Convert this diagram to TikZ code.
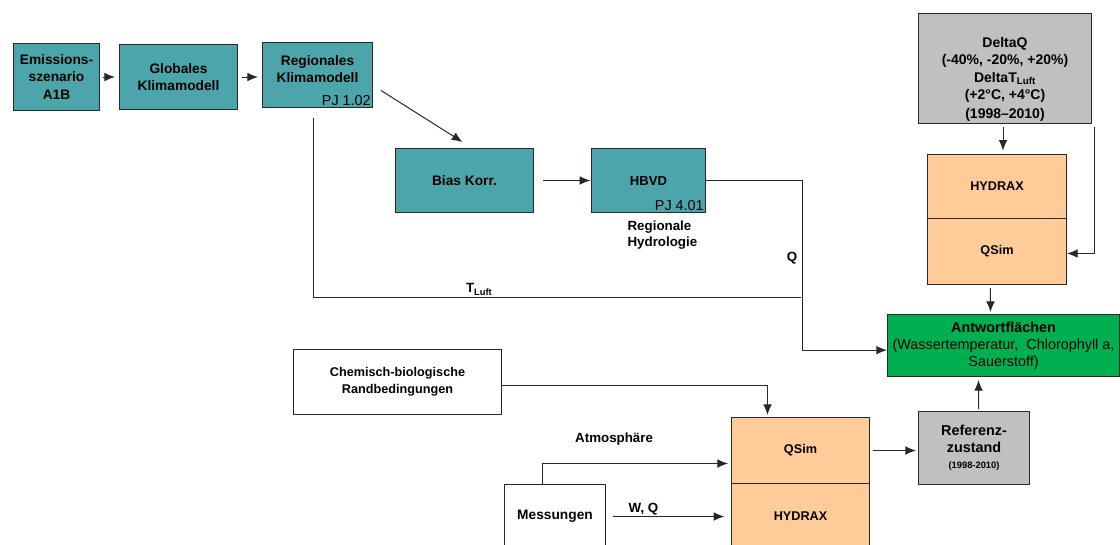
\documentclass[tikz,border=0pt]{standalone}
\usepackage{fontspec}
\setmainfont{Liberation Sans}
\usetikzlibrary{arrows.meta}

\definecolor{tealfill}{RGB}{75,165,170}
\definecolor{peachfill}{RGB}{255,204,153}
\definecolor{greyfill}{RGB}{192,192,192}
\definecolor{greenfill}{RGB}{0,176,80}
\definecolor{linecol}{RGB}{40,40,40}

\begin{document}
\begin{tikzpicture}[x=0.75pt,y=-0.75pt,
  box/.style={draw=linecol,line width=0.75pt,anchor=north west,inner sep=1pt,
    align=center,font=\fontsize{9.5}{12.5}\selectfont\bfseries},
  tealbox/.style={box,fill=tealfill,font=\fontsize{10.3}{12.8}\selectfont\bfseries},
  peachbox/.style={box,fill=peachfill},
  greybox/.style={box,fill=greyfill},
  pj/.style={anchor=south east,inner sep=1.5pt,font=\fontsize{10.8}{12}\selectfont},
  lab/.style={inner sep=1pt,font=\fontsize{10}{12.5}\selectfont\bfseries},
  conn/.style={line width=0.75pt,draw=linecol},
  arr/.style={conn,-{Latex[length=8pt,width=6.5pt]}}]
\useasboundingbox (0,0) rectangle (1120,544);

% draw climate chain
\node[tealbox,minimum width=64.5pt,minimum height=50.25pt] (emis) at (13,43) {Emissions-\\szenario\\A1B};
\node[tealbox,minimum width=88.5pt,minimum height=48.75pt] (glob) at (119,44) {Globales\\Klimamodell};
\node[tealbox,minimum width=82.5pt,minimum height=48.75pt] (regio) at (262,42) {Regionales\\Klimamodell\\[-4pt]\mbox{}};
\node[pj] (regiopj) at (regio.south east) {PJ 1.02};

\node[tealbox,minimum width=103.5pt,minimum height=48pt] (bias) at (395,148) {Bias Korr.};
\node[tealbox,minimum width=85.5pt,minimum height=48pt,font=\fontsize{9.8}{12}\selectfont\bfseries] (hbvd) at (591,148) {HBVD};
\node[pj] (hbvdpj) at (hbvd.south east) {PJ 4.01};
\node[lab,anchor=north west,align=left] (hydro) at (626,219) {Regionale\\Hydrologie};

% draw scenario side
\node[greybox,minimum width=129.75pt,minimum height=81.75pt,font=\fontsize{10.5}{13.2}\selectfont\bfseries] (delta) at (918,13)
  {\mbox{}\\[11pt]DeltaQ\\(-40\%, -20\%, +20\%)\\DeltaT\textsubscript{Luft}\\(+2°C, +4°C)\\[1pt](1998–2010)};
\node[peachbox,minimum width=104.25pt,minimum height=48pt] (hydraxa) at (927,154) {HYDRAX};
\node[peachbox,minimum width=104.25pt,minimum height=49.5pt] (qsima) at (927,218) {QSim};

\node[box,fill=greenfill,minimum width=174pt,minimum height=46.5pt,font=\fontsize{10.8}{12.6}\selectfont] (antwort) at (887,314)
  {\textbf{Antwortflächen}\\(Wassertemperatur,\ \ Chlorophyll a,\\Sauerstoff)};

% draw reference side
\node[box,minimum width=156pt,minimum height=48.75pt] (chem) at (293,349) {Chemisch-biologische\\Randbedingungen};
\node[peachbox,minimum width=103.5pt,minimum height=49.5pt] (qsimb) at (731,417) {QSim};
\node[peachbox,minimum width=103.5pt,minimum height=49.5pt] (hydraxb) at (731,483) {HYDRAX};
\node[box,minimum width=75.75pt,minimum height=48pt,font=\fontsize{10.3}{12.5}\selectfont\bfseries] (mess) at (504,484) {Messungen};
\node[greybox,minimum width=83.25pt,minimum height=54.75pt,font=\fontsize{10.8}{13}\selectfont\bfseries] (ref) at (918,411)
  {Referenz-\\zustand\\[-1pt]{\fontsize{7}{9}\selectfont(1998-2010)}};

% draw connectors
\draw[arr,shorten <=2.25pt,shorten >=3pt] (emis) -- (glob);
\draw[arr,shorten <=3pt,shorten >=3pt] (glob) -- (regio.west |- glob.east);
\draw[arr] ([xshift=6pt,yshift=-11.6pt]regio.east) -- ([xshift=-1.5pt,yshift=4.5pt]bias.north);
\draw[arr,shorten <=6.75pt,shorten >=0.5pt] (bias) -- (hbvd);

\coordinate (tjoin) at (801,297);
\draw[arr] (hbvd.east) -- ++(96,0) |- ([yshift=-3.5pt]antwort.west);
\draw[conn] ([xshift=-3pt,yshift=-7.5pt]regio.south) |- (tjoin)
  node[lab,pos=0.67,above] (tluft) {T\textsubscript{Luft}};
\node[lab] (qlab) at (792,258) {Q};

\draw[arr] ([xshift=-1.5pt,yshift=-2.25pt]delta.south) -- ([xshift=4.5pt,yshift=2.5pt]hydraxa.north);
\draw[arr] ([xshift=1.5pt,yshift=-2.25pt]delta.south east) |- ([yshift=-1.5pt]qsima.east);
\draw[arr] ([xshift=-4.9pt,yshift=-2.25pt]qsima.south) -- ([xshift=-9.75pt,yshift=1.5pt]antwort.north);
\draw[arr] ([xshift=3.4pt,yshift=1.5pt]ref.north) -- ([xshift=-18.75pt,yshift=-2.25pt]antwort.south);

\draw[arr] ([yshift=-2.6pt]chem.east) -| ([xshift=-24.75pt,yshift=1.5pt]qsimb.north);
\draw[arr,shorten <=2.25pt,shorten >=1.5pt] (qsimb.east) -- (qsimb.east -| ref.west);
\draw[arr,shorten >=2.25pt] ([xshift=-9.4pt]mess.north) |- ([yshift=-9.75pt]qsimb.west)
  node[lab,pos=0.69,above=12pt] (atmo) {Atmosphäre};
\draw[arr,shorten <=5pt,shorten >=5pt] (mess.east) -- (mess.east -| hydraxb.west)
  node[lab,pos=0.3,above] (wq) {W, Q};

\end{tikzpicture}
\end{document}
